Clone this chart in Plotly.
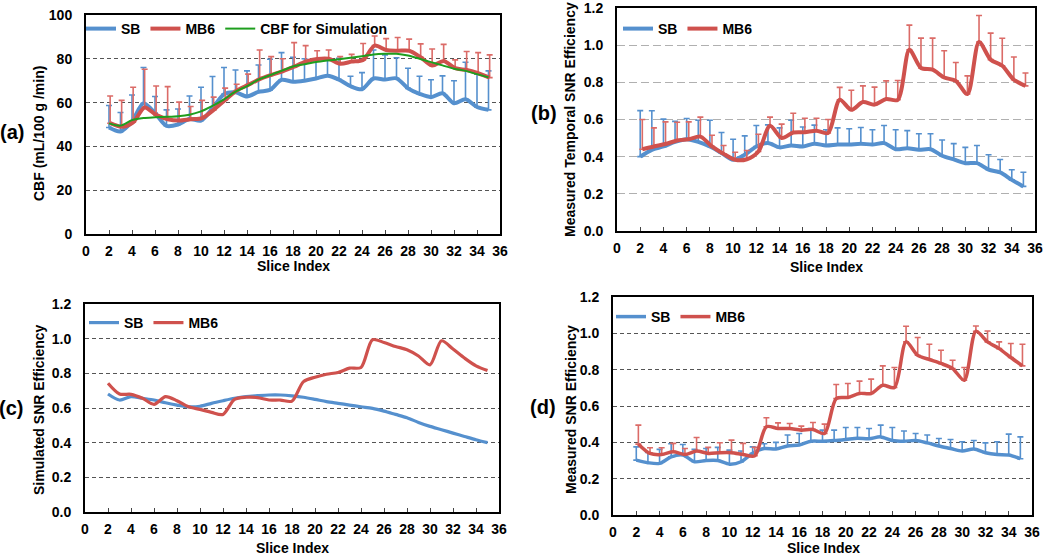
import plotly.graph_objects as go

# ---------------- data ----------------
slices = list(range(2, 36))
x_ticks = list(range(0, 37, 2))

# (a) CBF (mL/100 g/min)
sb_cbf = [48.6, 46.8, 51.4, 59.7, 55.2, 49.4, 50.0, 52.5, 51.8, 57.4, 63.8, 64.7, 62.8, 64.9, 65.8, 70.4, 69.5,
          70.0, 71.0, 72.3, 70.5, 67.5, 66.1, 71.0, 70.5, 71.1, 66.5, 64.0, 62.5, 64.3, 59.7, 61.5, 58.0, 56.7]
sb_cbf_upper = [58.7, 55.5, 63.5, 76, 62.8, 56.7, 57.1, 63, 67, 71.9, 76, 74.9, 74.5, 77.2, 79.8, 82.8, 80.7,
                80, 79, 80, 80.2, 72, 73.7, 84, 81.8, 80.5, 75.7, 72, 70.4, 72.2, 70, 78.4, 73, 74.5]
mb6_cbf = [50.6, 49, 51, 57.8, 54.4, 52.4, 51.8, 52.4, 52.9, 56.7, 61.2, 65.5, 68.1, 70.7, 72.6, 74.3, 76.4,
           78.7, 79.9, 80, 77.7, 78.7, 79.5, 86, 84, 83.7, 83.7, 80.7, 76.9, 79, 75.7, 74.9, 73.4, 71.4]
mb6_cbf_upper = [63, 61, 67, 75.2, 67.6, 67.3, 60.2, 58.2, 61, 62.5, 66.6, 68.4, 73, 84, 81, 80, 87.4,
                 86, 83.7, 84, 81, 82, 87, 90.4, 89.2, 89.7, 89, 86.8, 84.5, 86.6, 79.5, 83.3, 82.8, 81.8]
cbf_sim = [50.5, 49.5, 52, 53, 53.3, 53.5, 53.8, 54.5, 56, 58.5, 61.5, 65, 67.5, 70.5, 72.5, 74.5, 76.5,
           77.5, 78.5, 79.2, 79.8, 80.5, 81.2, 82, 82.3, 82.3, 81.5, 80, 78.5, 77, 75.5, 74.5, 73, 71.5]

# (b) Measured temporal SNR efficiency
sb_tsnr = [0.40, 0.437, 0.455, 0.48, 0.494, 0.48, 0.455, 0.42, 0.383, 0.41, 0.455, 0.473, 0.45, 0.46, 0.455, 0.47,
           0.46, 0.465, 0.465, 0.47, 0.465, 0.473, 0.44, 0.445, 0.437, 0.44, 0.405, 0.385, 0.365, 0.365, 0.33,
           0.315, 0.275, 0.24]
sb_tsnr_upper = [0.648, 0.647, 0.602, 0.59, 0.605, 0.596, 0.596, 0.53, 0.494, 0.512, 0.568, 0.571, 0.555, 0.596,
                 0.56, 0.57, 0.545, 0.555, 0.55, 0.557, 0.545, 0.568, 0.545, 0.54, 0.523, 0.523, 0.49, 0.47, 0.45,
                 0.46, 0.41, 0.385, 0.33, 0.316]
mb6_tsnr = [0.44, 0.455, 0.468, 0.487, 0.494, 0.508, 0.455, 0.415, 0.383, 0.386, 0.428, 0.566, 0.5, 0.53, 0.532,
            0.54, 0.527, 0.706, 0.652, 0.694, 0.68, 0.71, 0.706, 0.975, 0.877, 0.868, 0.826, 0.808, 0.737, 1.017,
            0.922, 0.889, 0.814, 0.781]
mb6_tsnr_upper = [0.6, 0.555, 0.587, 0.585, 0.587, 0.613, 0.515, 0.46, 0.424, 0.433, 0.521, 0.613, 0.575, 0.634,
                  0.607, 0.607, 0.6, 0.773, 0.757, 0.781, 0.774, 0.808, 0.81, 1.108, 1.038, 1.038, 0.97, 0.907,
                  0.835, 1.16, 1.065, 1.037, 0.936, 0.85]

# (c) Simulated SNR efficiency
sb_sim = [0.681, 0.646, 0.666, 0.656, 0.646, 0.63, 0.617, 0.607, 0.61, 0.627, 0.642, 0.656, 0.666, 0.671, 0.675,
          0.675, 0.67, 0.662, 0.65, 0.637, 0.627, 0.617, 0.607, 0.598, 0.582, 0.563, 0.544, 0.517, 0.494, 0.475,
          0.455, 0.436, 0.417, 0.4]
mb6_sim = [0.743, 0.681, 0.679, 0.656, 0.621, 0.666, 0.642, 0.607, 0.592, 0.575, 0.563, 0.65, 0.662, 0.66, 0.646,
           0.646, 0.64, 0.752, 0.778, 0.795, 0.805, 0.83, 0.834, 0.994, 0.978, 0.955, 0.936, 0.9, 0.849, 0.988,
           0.94, 0.888, 0.843, 0.816]

# (d) Measured SNR efficiency
sb_snr = [0.302, 0.288, 0.284, 0.32, 0.33, 0.293, 0.3, 0.3, 0.28, 0.293, 0.34, 0.366, 0.363, 0.38, 0.385, 0.406,
          0.406, 0.41, 0.416, 0.423, 0.42, 0.43, 0.41, 0.406, 0.41, 0.397, 0.38, 0.366, 0.352, 0.363, 0.343,
          0.333, 0.33, 0.31]
sb_snr_upper = [0.375, 0.344, 0.361, 0.392, 0.388, 0.361, 0.366, 0.372, 0.357, 0.352, 0.375, 0.392, 0.4, 0.44,
                0.449, 0.476, 0.467, 0.467, 0.482, 0.482, 0.476, 0.495, 0.482, 0.462, 0.449, 0.44, 0.421, 0.416,
                0.403, 0.41, 0.397, 0.403, 0.445, 0.43]
mb6_snr = [0.39, 0.339, 0.333, 0.348, 0.333, 0.352, 0.339, 0.343, 0.343, 0.333, 0.326, 0.486, 0.476, 0.476,
           0.467, 0.471, 0.449, 0.641, 0.647, 0.669, 0.669, 0.714, 0.702, 0.953, 0.879, 0.856, 0.834, 0.806,
           0.742, 1.011, 0.953, 0.916, 0.867, 0.821]
mb6_snr_upper = [0.495, 0.37, 0.37, 0.394, 0.366, 0.427, 0.372, 0.398, 0.412, 0.394, 0.372, 0.535, 0.507, 0.504,
                 0.489, 0.509, 0.5, 0.718, 0.724, 0.737, 0.748, 0.821, 0.812, 1.039, 0.977, 0.94, 0.907, 0.852,
                 0.812, 1.04, 1.013, 0.953, 0.944, 0.94]

# ---------------- style ----------------
W, H = 1050, 555
BLUE = "#5590CE"
RED = "#CF514D"
RED_ERR = "#DB6B67"
GREEN = "#1E9E1E"
FONT = "Liberation Sans, Arial, sans-serif"


def xdom(l, r):
    return [l / W, r / W]


def ydom(t, b):
    return [1 - b / H, 1 - t / H]


def sd(upper, mean):
    return [round(u - m, 4) for u, m in zip(upper, mean)]


def shift(xs, d):
    return [v + d for v in xs]


fig = go.Figure()


def add_line(xs, ys, name, color, width, xa, ya, legend, err=None, errcolor=None):
    kw = {}
    if err is not None:
        kw["error_y"] = dict(type="data", symmetric=False, array=err, arrayminus=[0] * len(err),
                             color=errcolor or color, thickness=1.6, width=3)
    fig.add_trace(go.Scatter(x=xs, y=ys, name=name, mode="lines",
                             line=dict(color=color, width=width, shape="spline", smoothing=0.8),
                             xaxis=xa, yaxis=ya, legend=legend, **kw))


# (a)
add_line(slices, sb_cbf, "SB", BLUE, 4, "x", "y", "legend", sd(sb_cbf_upper, sb_cbf))
add_line(shift(slices, 0.1), mb6_cbf, "MB6", RED, 4, "x", "y", "legend", sd(mb6_cbf_upper, mb6_cbf), RED_ERR)
add_line(slices, cbf_sim, "CBF for Simulation", GREEN, 2, "x", "y", "legend")
# (b)
add_line(slices, sb_tsnr, "SB", BLUE, 4, "x2", "y2", "legend2", sd(sb_tsnr_upper, sb_tsnr))
add_line(shift(slices, 0.18), mb6_tsnr, "MB6", RED, 4, "x2", "y2", "legend2", sd(mb6_tsnr_upper, mb6_tsnr), RED_ERR)
# (c)
add_line(slices, sb_sim, "SB", BLUE, 3.2, "x3", "y3", "legend3")
add_line(slices, mb6_sim, "MB6", RED, 3.2, "x3", "y3", "legend3")
# (d)
add_line(slices, sb_snr, "SB", BLUE, 3.5, "x4", "y4", "legend4", sd(sb_snr_upper, sb_snr))
add_line(shift(slices, 0.18), mb6_snr, "MB6", RED, 3.5, "x4", "y4", "legend4", sd(mb6_snr_upper, mb6_snr), RED_ERR)

tickfont = dict(family=FONT, size=14, color="black", weight="bold")


def xaxis(dom, anchor):
    return dict(domain=dom, anchor=anchor, range=[0, 36], tickmode="array", tickvals=x_ticks,
                ticks="inside", ticklen=4, tickwidth=1, tickcolor="#444", automargin=False,
                showline=True, linecolor="black", linewidth=2, mirror=True, ticklabeloverflow="allow",
                showgrid=False, zeroline=False, tickfont=tickfont, ticklabelstandoff=3)


def yaxis(dom, anchor, rng, dtick, fmt, griddash, gridcolor):
    return dict(domain=dom, anchor=anchor, range=rng, dtick=dtick, tickformat=fmt, ticks="",
                showline=True, linecolor="black", linewidth=2, mirror=True, automargin=False,
                showgrid=True, gridcolor=gridcolor, griddash=griddash, gridwidth=1.3,
                ticklabeloverflow="allow",
                zeroline=False, tickfont=tickfont, ticklabelstandoff=9)


def legend(xpx, ypx):
    return dict(x=xpx / W, y=1 - ypx / H, xanchor="left", yanchor="middle", orientation="h",
                bgcolor="rgba(0,0,0,0)", font=dict(family=FONT, size=14, color="black", weight="bold"),
                itemwidth=30, tracegroupgap=0, itemclick=False)


fig.update_layout(
    width=W, height=H, margin=dict(l=0, r=0, t=0, b=0, autoexpand=False),
    paper_bgcolor="white", plot_bgcolor="white", showlegend=True,
    xaxis=xaxis(xdom(86, 500), "y"),
    yaxis=yaxis(ydom(15, 234), "x", [0, 100], 20, "d", "4px,3px", "#555"),
    xaxis2=xaxis(xdom(617, 1035), "y2"),
    yaxis2=yaxis(ydom(8, 231), "x2", [0, 1.2], 0.2, ".1f", "8px,4px", "#b0b0b0"),
    xaxis3=xaxis(xdom(85, 499), "y3"),
    yaxis3=yaxis(ydom(304, 512), "x3", [0, 1.2], 0.2, ".1f", "4px,3px", "#555"),
    xaxis4=xaxis(xdom(613, 1032), "y4"),
    yaxis4=yaxis(ydom(297, 515), "x4", [0, 1.2], 0.2, ".1f", "4px,3px", "#555"),
    legend=legend(81, 29),
    legend2=legend(618, 29),
    legend3=legend(84, 323),
    legend4=legend(611, 317),
)


def text(label, xpx, ypx, size, angle=0):
    fig.add_annotation(text=label, x=xpx / W, y=1 - ypx / H, xref="paper", yref="paper",
                       showarrow=False, xanchor="center", yanchor="middle", textangle=angle,
                       font=dict(family=FONT, size=size, color="black", weight="bold"))


# axis titles
text("Slice Index", 293, 266, 14)
text("Slice Index", 826, 267, 14)
text("Slice Index", 292, 548, 14)
text("Slice Index", 823, 548, 14)
text("CBF (mL/100 g /min)", 39, 134, 14, -90)
text("Measured Temporal SNR Efficiency", 570, 120, 14, -90)
text("Simulated SNR Efficiency", 39, 410, 14, -90)
text("Measured SNR Efficiency", 571, 410, 14, -90)

# panel labels
for label, xpx, ypx in [("(a)", 12, 132), ("(b)", 544, 113), ("(c)", 11, 408), ("(d)", 543, 407)]:
    text(label, xpx, ypx, 20)

# remove the browser's default page margin so the figure sits at the window's top-left corner
fig.write_html("out.html", config={"displayModeBar": False},
               post_script="document.body.style.margin='0';document.body.style.overflow='hidden';")
